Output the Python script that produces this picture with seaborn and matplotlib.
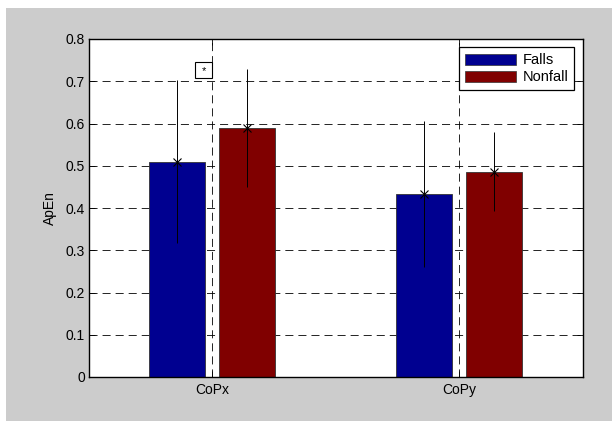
import matplotlib
matplotlib.use("Agg")
import matplotlib.pyplot as plt
from matplotlib.patches import Rectangle
import numpy as np
import pandas as pd
import seaborn as sns

# Approximate entropy of centre-of-pressure sway, by fall history
categories = ["CoPx", "CoPy"]
groups = ["Falls", "Nonfall"]
falls_mean = [0.510, 0.433]
nonfall_mean = [0.590, 0.486]
falls_sd = [0.192, 0.172]
nonfall_sd = [0.140, 0.094]
y_ticks = [0, 0.1, 0.2, 0.3, 0.4, 0.5, 0.6, 0.7, 0.8]
y_tick_labels = ["0", "0.1", "0.2", "0.3", "0.4", "0.5", "0.6", "0.7", "0.8"]
group_colors = ["#000090", "#800000"]

df = pd.DataFrame({
    "measure": categories * 2,
    "group": [groups[0]] * len(categories) + [groups[1]] * len(categories),
    "ApEn": falls_mean + nonfall_mean,
    "sd": falls_sd + nonfall_sd,
})

plt.rcParams["font.family"] = ["Liberation Sans", "DejaVu Sans"]
plt.rcParams["font.size"] = 10
plt.rcParams["lines.scale_dashes"] = False

fig = plt.figure(figsize=(6.12, 4.21), dpi=100, facecolor="white")
# grey window panel, leaving a thin white strip at the top and left
fig.add_artist(Rectangle((6 / 612, 0), 1, 1 - 8 / 421, transform=fig.transFigure,
                         facecolor="#cccccc", edgecolor="none", zorder=-10))

ax = fig.add_axes([88.5 / 612, 44 / 421, 494 / 612, 338 / 421])
ax.set_facecolor("white")
ax.set_axisbelow(True)

sns.barplot(data=df, x="measure", y="ApEn", hue="group", order=categories,
            hue_order=groups, palette=group_colors, width=0.566, gap=0.195,
            errorbar=None, edgecolor="#333333", linewidth=0.6, saturation=1,
            ax=ax)

# error bars (±SD) with asterisk markers at the means
for container, level in zip(ax.containers, groups):
    sub = df[df["group"] == level].set_index("measure").loc[categories]
    xs = [p.get_x() + p.get_width() / 2 for p in container.patches]
    ax.errorbar(xs, sub["ApEn"].values, yerr=sub["sd"].values, fmt="none",
                ecolor="black", elinewidth=0.7, capsize=0, zorder=5)
    ax.plot(xs, sub["ApEn"].values, linestyle="none", marker="x",
            markersize=5.5, markeredgewidth=0.8, color="black", zorder=6)

# significance marker
ax.add_patch(Rectangle((-0.069, 0.708), 0.069, 0.037, facecolor="white",
                       edgecolor="black", linewidth=0.8, zorder=7))
ax.text(-0.0345, 0.7245, "*", ha="center", va="center", fontsize=8, zorder=8)

ax.set_xlim(-0.5, 1.5)
ax.set_ylim(0, 0.8)
ax.set_yticks(y_ticks)
ax.set_yticklabels(y_tick_labels)
ax.set_xlabel("")
ax.set_ylabel("ApEn", fontsize=10, labelpad=6)

ax.grid(True, color="black", linestyle=(0, (5.8, 3.6)), linewidth=0.6)
for s in ax.spines.values():
    s.set_visible(True)
    s.set_color("black")
    s.set_linewidth(1.0)
ax.tick_params(axis="both", direction="in", length=4, width=0.6,
               top=True, right=True, labelsize=10, colors="black")
ax.tick_params(axis="y", pad=2.5)
ax.tick_params(axis="x", pad=4)

leg = ax.legend(loc="upper right", frameon=True, fancybox=False,
                edgecolor="black", framealpha=1, fontsize=10.5,
                handlelength=3.5, handleheight=0.8, handletextpad=0.45,
                labelspacing=0.22, borderpad=0.42, borderaxespad=0.55)
leg.get_frame().set_linewidth(0.9)
for h in leg.legend_handles:
    h.set_edgecolor("#333333")
    h.set_linewidth(0.5)

fig.savefig("out.png", dpi=100, facecolor=fig.get_facecolor())
